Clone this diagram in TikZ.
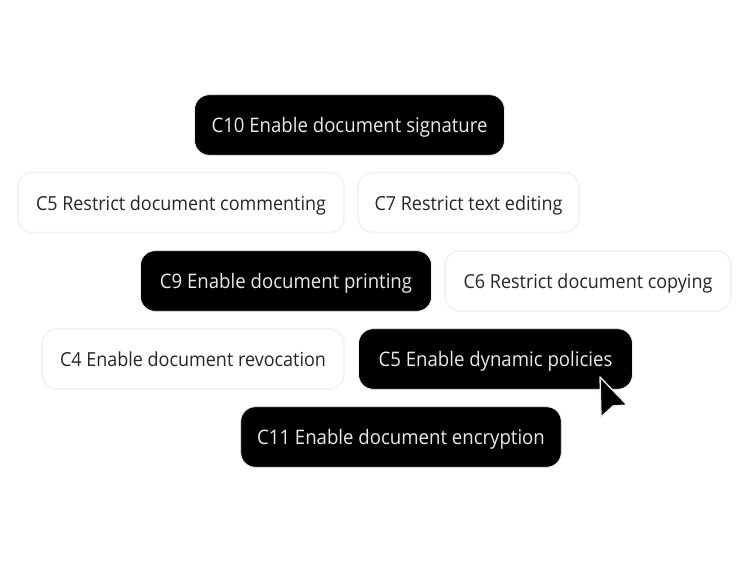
\documentclass[tikz,border=0pt]{standalone}
\usepackage{fontspec}
\setmainfont[FakeStretch=0.93]{Open Sans}
\tikzset{
  chip/.style={rounded corners=11pt, line width=1.2pt, inner sep=0pt, minimum height=45pt, text height=13pt, text depth=1.4pt, font=\fontsize{14.5}{18}\selectfont},
  darkchip/.style={chip, fill=black, draw=black!6, line width=0.6pt, minimum height=45.4pt, text=black!8, font=\fontsize{15}{18}\selectfont},
  lightchip/.style={chip, fill=white, draw=black!5, text=black!85}
}
\begin{document}
\begin{tikzpicture}[x=0.75pt,y=-0.75pt]
\useasboundingbox (0,0) rectangle (750,563);
\node[darkchip, minimum width=232.4pt] (signature) at (349.5,125) {C10 Enable document signature};
\node[lightchip, minimum width=244.5pt] (commenting) at (181,202.5) {C5 Restrict document commenting};
\node[lightchip, minimum width=165.5pt] (editing) at (468.5,202.5) {C7 Restrict text editing};
\node[darkchip, minimum width=218.4pt] (printing) at (286,281) {C9 Enable document printing};
\node[lightchip, minimum width=214.5pt] (copying) at (588,281) {C6 Restrict document copying};
\node[lightchip, minimum width=226.5pt] (revocation) at (193,359) {C4 Enable document revocation};
\node[darkchip, minimum width=205.4pt] (dynamic) at (495.5,359) {C5 Enable dynamic policies};
\node[darkchip, minimum width=240.4pt] (encryption) at (401,437) {C11 Enable document encryption};
% cursor
\filldraw[fill=black, draw=black!7, line width=1pt, line join=round] (600,377) -- (627,405) -- (613,406) -- (601,417) -- cycle;
\end{tikzpicture}
\end{document}
